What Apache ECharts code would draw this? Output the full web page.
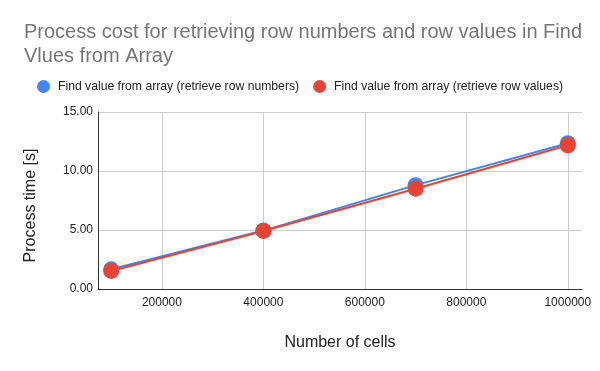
<!DOCTYPE html>
<html><head><meta charset="utf-8">
<script src="https://cdn.jsdelivr.net/npm/echarts@6/dist/echarts.min.js"></script>
<style>html,body{margin:0;padding:0;background:#fff}#c{width:600px;height:371px}</style>
</head><body><div id="c"></div>
<script>
const cells = [100000, 400000, 700000, 1000000];
const rowNumbers = [1.67, 4.95, 8.8, 12.35];
const rowValues = [1.53, 4.92, 8.5, 12.18];
const xTicks = [200000, 400000, 600000, 800000, 1000000];
const yTicks = [0, 5, 10, 15];
const seriesNames = ['Find value from array (retrieve row numbers)', 'Find value from array (retrieve row values)'];
const titleText = 'Process cost for retrieving row numbers and row values in Find\nVlues from Array';

const chart = echarts.init(document.getElementById('c'));
const font = 'Arial, "Liberation Sans", sans-serif';
chart.setOption({
  animation: false,
  title: {text: titleText, left: 19, top: 15, textStyle: {fontFamily: font, fontSize: 20, fontWeight: 'normal', color: '#757575', lineHeight: 24}},
  legend: {top: 75, left: 32, itemGap: 14, icon: 'circle', itemWidth: 13, itemHeight: 13,
    textStyle: {fontFamily: font, fontSize: 12.2, color: '#222', padding: [0, 0, 0, 3]}, data: seriesNames},
  grid: {left: 98, right: 18, top: 112, bottom: 82, containLabel: false},
  xAxis: {type: 'value', min: 74000, max: 1028000,
    name: 'Number of cells', nameLocation: 'middle', nameGap: 46,
    nameTextStyle: {fontFamily: font, fontSize: 16, color: '#222'},
    axisLine: {show: true, lineStyle: {color: '#333', width: 1}},
    axisTick: {show: false, customValues: xTicks},
    axisLabel: {customValues: xTicks, fontFamily: font, fontSize: 12, color: '#222', margin: 8, formatter: v => String(v)},
    splitLine: {show: true, lineStyle: {color: '#ccc'}}},
  yAxis: {type: 'value', min: 0, max: 15, interval: 5,
    name: 'Process time [s]', nameLocation: 'middle', nameGap: 59,
    nameTextStyle: {fontFamily: font, fontSize: 16, color: '#222', padding: [0, 10, 0, 0]},
    axisLine: {show: true, lineStyle: {color: '#333', width: 1}},
    axisTick: {show: false},
    axisLabel: {fontFamily: font, fontSize: 12, color: '#222', margin: 5, formatter: v => v.toFixed(2)},
    splitLine: {show: true, lineStyle: {color: '#ccc'}}},
  series: [
    {name: seriesNames[0], type: 'line', data: cells.map((x, i) => [x, rowNumbers[i]]),
      symbol: 'circle', symbolSize: 16, color: '#4285F4', lineStyle: {width: 2}},
    {name: seriesNames[1], type: 'line', data: cells.map((x, i) => [x, rowValues[i]]),
      symbol: 'circle', symbolSize: 16, color: '#EA4335', lineStyle: {width: 2}}
  ]
});
</script></body></html>
